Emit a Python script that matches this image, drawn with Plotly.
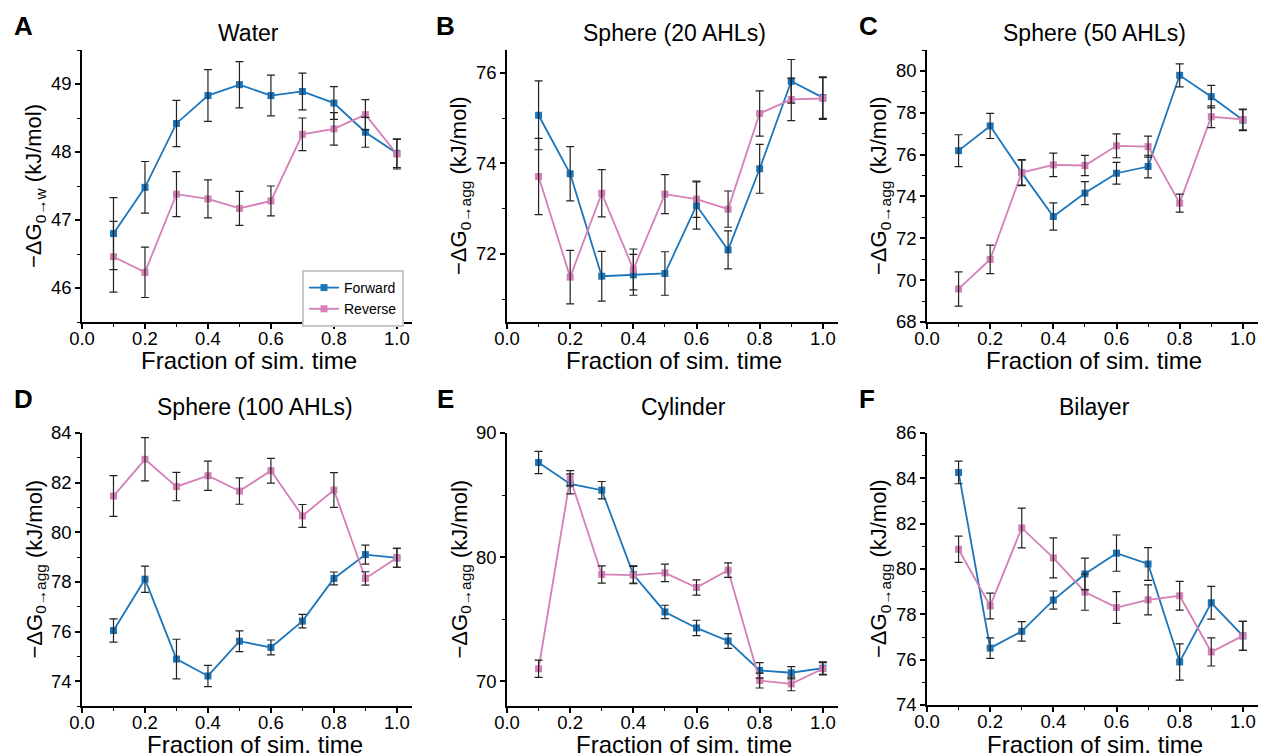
import plotly.graph_objects as go

# ---------------- data ----------------
frac = [0.1, 0.2, 0.3, 0.4, 0.5, 0.6, 0.7, 0.8, 0.9, 1.0]

water_fwd = [46.80, 47.48, 48.42, 48.83, 48.99, 48.83, 48.89, 48.72, 48.29, 47.98]
water_fwd_err = [0.53, 0.38, 0.34, 0.38, 0.34, 0.30, 0.27, 0.24, 0.22, 0.21]
water_rev = [46.46, 46.23, 47.38, 47.31, 47.17, 47.28, 48.26, 48.34, 48.55, 47.97]
water_rev_err = [0.52, 0.37, 0.33, 0.28, 0.25, 0.22, 0.24, 0.24, 0.22, 0.22]

s20_fwd = [75.06, 73.77, 71.51, 71.54, 71.57, 73.07, 72.09, 73.88, 75.81, 75.45]
s20_fwd_err = [0.76, 0.60, 0.55, 0.45, 0.48, 0.52, 0.42, 0.54, 0.48, 0.46]
s20_rev = [73.71, 71.49, 73.34, 71.66, 73.32, 73.21, 72.99, 75.10, 75.41, 75.43]
s20_rev_err = [0.84, 0.59, 0.52, 0.45, 0.43, 0.40, 0.40, 0.50, 0.47, 0.46]

s50_fwd = [76.19, 77.37, 75.14, 73.04, 74.16, 75.11, 75.43, 79.79, 78.77, 77.65]
s50_fwd_err = [0.76, 0.60, 0.60, 0.65, 0.55, 0.52, 0.54, 0.55, 0.54, 0.50]
s50_rev = [69.58, 70.99, 75.14, 75.51, 75.48, 76.42, 76.38, 73.68, 77.81, 77.68]
s50_rev_err = [0.82, 0.68, 0.62, 0.56, 0.48, 0.57, 0.50, 0.43, 0.52, 0.50]

s100_fwd = [76.04, 78.11, 74.89, 74.21, 75.61, 75.36, 76.42, 78.14, 79.10, 78.97]
s100_fwd_err = [0.47, 0.53, 0.80, 0.43, 0.42, 0.30, 0.27, 0.26, 0.38, 0.38]
s100_rev = [81.46, 82.94, 81.84, 82.28, 81.66, 82.48, 80.66, 81.70, 78.14, 78.97]
s100_rev_err = [0.82, 0.87, 0.57, 0.59, 0.53, 0.50, 0.46, 0.70, 0.27, 0.38]

cyl_fwd = [87.62, 85.90, 85.39, 78.60, 75.58, 74.29, 73.24, 70.87, 70.68, 71.05]
cyl_fwd_err = [0.90, 0.80, 0.70, 0.70, 0.54, 0.62, 0.60, 0.62, 0.50, 0.50]
cyl_rev = [71.00, 86.36, 78.60, 78.55, 78.73, 77.55, 78.95, 70.05, 69.78, 71.00]
cyl_rev_err = [0.70, 0.60, 0.70, 0.70, 0.70, 0.62, 0.59, 0.60, 0.55, 0.50]

bil_fwd = [84.26, 76.51, 77.25, 78.63, 79.78, 80.70, 80.22, 75.90, 78.51, 77.05]
bil_fwd_err = [0.50, 0.45, 0.43, 0.40, 0.70, 0.80, 0.72, 0.80, 0.72, 0.64]
bil_rev = [80.87, 78.37, 81.81, 80.49, 78.98, 78.30, 78.64, 78.82, 76.34, 77.05]
bil_rev_err = [0.58, 0.57, 0.88, 0.88, 0.80, 0.70, 0.66, 0.63, 0.62, 0.64]

panel_letters = ["A", "B", "C", "D", "E", "F"]
panel_titles = ["Water", "Sphere (20 AHLs)", "Sphere (50 AHLs)",
                "Sphere (100 AHLs)", "Cylinder", "Bilayer"]
y_titles = ["−ΔG<sub>0→w</sub> (kJ/mol)"] + ["−ΔG<sub>0→agg</sub> (kJ/mol)"] * 5
x_title = "Fraction of sim. time"
series_names = ["Forward", "Reverse"]

panels_fwd = [water_fwd, s20_fwd, s50_fwd, s100_fwd, cyl_fwd, bil_fwd]
panels_fwd_err = [water_fwd_err, s20_fwd_err, s50_fwd_err, s100_fwd_err, cyl_fwd_err, bil_fwd_err]
panels_rev = [water_rev, s20_rev, s50_rev, s100_rev, cyl_rev, bil_rev]
panels_rev_err = [water_rev_err, s20_rev_err, s50_rev_err, s100_rev_err, cyl_rev_err, bil_rev_err]

# ---------------- layout / style ----------------
W, H = 1262, 755
FONT = "Arial, Liberation Sans, Helvetica, sans-serif"
BLUE = "#1a75bb"
PINK = "#d47fb6"

# plot-area pixel boxes (left, right, top, bottom)
boxes = [
    (82, 412, 50, 322), (507, 838, 50, 322), (927, 1258, 50, 322),
    (82, 412, 433, 706), (507, 838, 433, 706), (927, 1258, 433, 705),
]
# text placement in pixels
letter_pos = [(23, 26), (445, 26), (868, 26), (23, 399), (445, 399), (867, 399)]
title_pos = [(248, 33), (674, 33), (1094, 33), (255, 407), (683, 407), (1094, 407)]
xtitle_pos = [(249, 360), (674, 360), (1094, 360), (255, 744), (684, 744), (1095, 744)]

y_ranges = [[45.5, 49.5], [70.5, 76.5], [68, 81], [73, 84], [68, 90], [74, 86]]
y_dticks = [1, 2, 2, 2, 10, 2]

fig = go.Figure()
layout = dict(
    template="none",
    width=W, height=H,
    margin=dict(l=0, r=0, t=0, b=0, pad=0),
    paper_bgcolor="white", plot_bgcolor="white",
    font=dict(family=FONT, color="black"),
    showlegend=True,
    legend=dict(
        x=302 / W, y=1 - 270 / H, xanchor="left", yanchor="top",
        bgcolor="white", bordercolor="#c8c8c8", borderwidth=2,
        font=dict(size=14, family=FONT), tracegroupgap=0,
        itemwidth=30,
    ),
)
annotations = []

for i in range(6):
    l, r, t, b = boxes[i]
    xa = "xaxis" if i == 0 else f"xaxis{i+1}"
    ya = "yaxis" if i == 0 else f"yaxis{i+1}"
    xref = "x" if i == 0 else f"x{i+1}"
    yref = "y" if i == 0 else f"y{i+1}"

    axis_common = dict(
        automargin=False,
        showline=True, linecolor="black", linewidth=1.6,
        ticks="outside", ticklen=5, tickwidth=1.5, tickcolor="black",
        showgrid=False, zeroline=False, mirror=False,
        tickfont=dict(size=18.5, family=FONT, color="black"),
    )
    layout[xa] = dict(
        domain=[l / W, r / W], anchor=yref,
        range=[0, 1.048], tick0=0, dtick=0.2, tickformat=".1f",
        ticklabelstandoff=-6,
        minor=dict(dtick=0.1, ticks="outside", ticklen=3, tickwidth=1.3, tickcolor="black", showgrid=False),
        **axis_common,
    )
    dt = y_dticks[i]
    layout[ya] = dict(
        domain=[1 - b / H, 1 - t / H], anchor=xref,
        range=y_ranges[i], tick0=0, dtick=dt,
        minor=dict(dtick=dt / 2, ticks="outside", ticklen=3, tickwidth=1.3, tickcolor="black", showgrid=False),
        **axis_common,
    )

    for name, vals, col in [
        (series_names[0], panels_fwd[i], BLUE),
        (series_names[1], panels_rev[i], PINK),
    ]:
        fig.add_trace(go.Scatter(
            x=frac, y=vals, mode="lines+markers", name=name,
            line=dict(color=col, width=1.8),
            marker=dict(symbol="square", size=7, color=col),
            showlegend=(i == 0), legendgroup=name,
            xaxis=xref, yaxis=yref,
        ))
    for name, vals, errs in [
        (series_names[0], panels_fwd[i], panels_fwd_err[i]),
        (series_names[1], panels_rev[i], panels_rev_err[i]),
    ]:
        fig.add_trace(go.Scatter(
            x=frac, y=vals, mode="markers", name=name,
            marker=dict(size=1, opacity=0),
            error_y=dict(type="data", array=errs, visible=True,
                         color="#222222", thickness=1.2, width=4),
            showlegend=False, hoverinfo="skip",
            xaxis=xref, yaxis=yref,
        ))

    lx, ly = letter_pos[i]
    annotations.append(dict(
        text=f"<b>{panel_letters[i]}</b>", x=lx / W, y=1 - ly / H,
        xref="paper", yref="paper", xanchor="center", yanchor="middle",
        showarrow=False, font=dict(size=26, family=FONT, color="black"),
    ))
    tx, ty = title_pos[i]
    annotations.append(dict(
        text=panel_titles[i], x=tx / W, y=1 - ty / H,
        xref="paper", yref="paper", xanchor="center", yanchor="middle",
        showarrow=False, font=dict(size=23, family=FONT, color="black"),
    ))
    xx, xy = xtitle_pos[i]
    annotations.append(dict(
        text=x_title, x=xx / W, y=1 - xy / H,
        xref="paper", yref="paper", xanchor="center", yanchor="middle",
        showarrow=False, font=dict(size=24, family=FONT, color="black"),
    ))
    annotations.append(dict(
        text=y_titles[i], x=(l - 47) / W, y=1 - ((t + b) / 2) / H,
        xref="paper", yref="paper", xanchor="center", yanchor="middle",
        textangle=-90, showarrow=False,
        font=dict(size=22, family=FONT, color="black"),
    ))

layout["annotations"] = annotations
fig.update_layout(**layout)
fig.write_html("out.html", config={"displayModeBar": False})

# remove the default page margin so the figure sits at the window's origin
with open("out.html", "r", encoding="utf-8") as fh:
    html = fh.read()
html = html.replace("<head>", "<head><style>html,body{margin:0;padding:0;overflow:hidden;}</style>", 1)
with open("out.html", "w", encoding="utf-8") as fh:
    fh.write(html)
